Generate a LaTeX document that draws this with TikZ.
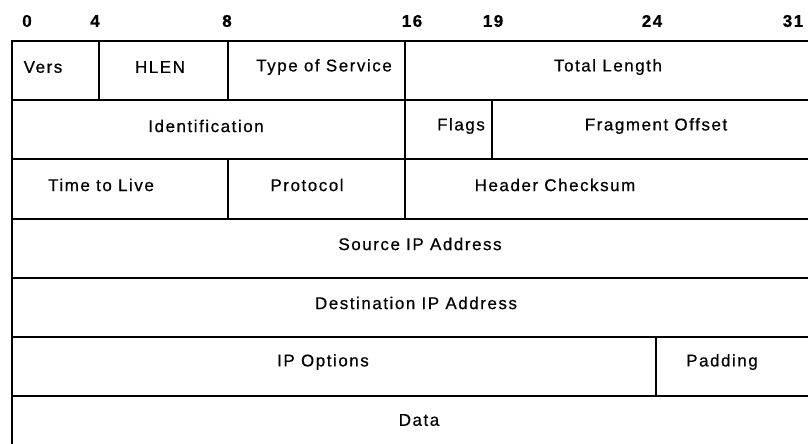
\documentclass[tikz,border=0pt]{standalone}
\usepackage{fontspec}
\setmainfont{Liberation Sans}[LetterSpace=9,FakeBold=0.6]
\begin{document}
\begin{tikzpicture}[x=1pt,y=-1pt,
  grid/.style={line width=1.8pt, line cap=rect},
  lbl/.style={font=\fontsize{17}{20}\selectfont, inner sep=0pt},
  num/.style={font=\bfseries\fontsize{17}{20}\selectfont, inner sep=0pt}]
\useasboundingbox (0,0) rectangle (808,444);
% grid lines
\draw[grid] (12,41) -- (12,450);
\foreach \yy in {41,100,159,219,278,337,396} \draw[grid] (12,\yy) -- (820,\yy);
\draw[grid] (99,41) -- (99,100);
\draw[grid] (228,41) -- (228,100);
\draw[grid] (405,41) -- (405,219);
\draw[grid] (492,100) -- (492,159);
\draw[grid] (228,159) -- (228,219);
\draw[grid] (656,337) -- (656,396);
% bit numbers
\node[num] (b0) at (27,21) {0};
\node[num] (b4) at (95,21) {4};
\node[num] (b8) at (227,21) {8};
\node[num] (b16) at (412,21) {16};
\node[num] (b19) at (493,21) {19};
\node[num] (b24) at (652,21) {24};
\node[num] (b31) at (793,21) {31};
% field labels
\node[lbl] (vers) at (43,67) {Vers};
\node[lbl] (hlen) at (160,67) {HLEN};
\node[lbl] (tos) at (324,67) {Type of Service};
\node[lbl] (tlen) at (608,67) {Total Length};
\node[lbl] (ident) at (206,126) {Identification};
\node[lbl] (flags) at (461,126) {Flags};
\node[lbl] (frag) at (656,126) {Fragment Offset};
\node[lbl] (ttl) at (101,185) {Time to Live};
\node[lbl] (proto) at (307,185) {Protocol};
\node[lbl] (csum) at (555,185) {Header Checksum};
\node[lbl] (src) at (420,244) {Source IP Address};
\node[lbl] (dst) at (416,303) {Destination IP Address};
\node[lbl] (opts) at (323,362) {IP Options};
\node[lbl] (pad) at (722,362) {Padding};
\node[lbl] (data) at (419,420) {Data};
\end{tikzpicture}
\end{document}
